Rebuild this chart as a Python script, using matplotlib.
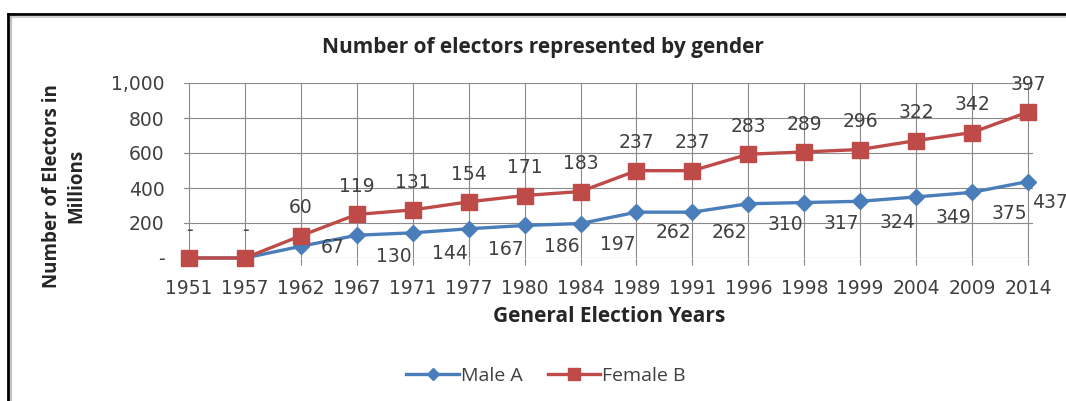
import matplotlib
matplotlib.use("Agg")
import matplotlib.pyplot as plt
from matplotlib.ticker import FuncFormatter
from matplotlib.lines import Line2D

years = ["1951", "1957", "1962", "1967", "1971", "1977", "1980", "1984",
         "1989", "1991", "1996", "1998", "1999", "2004", "2009", "2014"]
male = [0, 0, 67, 130, 144, 167, 186, 197, 262, 262, 310, 317, 324, 349, 375, 437]
female = [0, 0, 60, 119, 131, 154, 171, 183, 237, 237, 283, 289, 296, 322, 342, 397]

BLUE = "#4A7EBB"
RED = "#BE4B48"
TXT = "#404040"
HEAD = "#262626"
W, H = 1066, 401

fig = plt.figure(figsize=(W / 100, H / 100), dpi=100)
ax = fig.add_axes([184 / W, 1 - 258 / H, (1033 - 184) / W, (258 - 83) / H])

xs = list(range(len(years)))
# stacked line chart: female sits on top of male
stacked = [m + f for m, f in zip(male, female)]

ax.plot(xs, male, color=BLUE, lw=2.4, marker="D", ms=8, mfc=BLUE, mec=BLUE,
        label="Male A", clip_on=False, zorder=3)
ax.plot(xs, stacked, color=RED, lw=2.4, marker="s", ms=11, mfc=RED, mec=RED,
        label="Female B", clip_on=False, zorder=4)

lab_font = dict(family="DejaVu Sans", fontsize=13.5, color=TXT)
last = len(xs) - 1
for x, m, f, s in zip(xs, male, female, stacked):
    ax.annotate("-" if f == 0 else str(f), (x, s), xytext=(0, 20),
                textcoords="offset points", ha="center", va="center", **lab_font)
    if m:
        dx = 3 if x == last else 14
        dy = -1 if m < 100 else -15   # keep the lowest label off the axis
        ax.annotate(str(m), (x, m), xytext=(dx, dy), textcoords="offset points",
                    ha="left", va="center", **lab_font)

ax.set_xlim(-0.09, 15.09)
ax.set_ylim(0, 1000)
ax.set_xticks(xs)
ax.set_xticklabels(years)
ax.set_yticks(range(0, 1001, 200))
ax.yaxis.set_major_formatter(FuncFormatter(lambda v, p: "-" if v == 0 else f"{v:,.0f}"))
ax.grid(True, color="#8a8a8a", lw=0.8)
ax.set_axisbelow(True)
for sp in ax.spines.values():
    sp.set_visible(False)
ax.tick_params(axis="x", length=5, color="#8a8a8a", pad=10, labelsize=13.5, labelcolor=TXT)
ax.tick_params(axis="y", length=0, pad=14, labelsize=13.5, labelcolor=TXT)
for t in ax.get_xticklabels() + ax.get_yticklabels():
    t.set_family("DejaVu Sans")

fig.text(543 / W, 1 - 47 / H, "Number of electors represented by gender",
         ha="center", va="center", fontsize=15, fontweight="bold",
         family="Open Sans", color=HEAD)
fig.text(609 / W, 1 - 317 / H, "General Election Years", ha="center", va="center",
         fontsize=15, fontweight="bold", family="Open Sans", color=HEAD)
fig.text(64 / W, 1 - 186 / H, "Number of Electors in\nMillions", ha="center",
         va="center", rotation=90, fontsize=13.5, fontweight="bold", family="Open Sans",
         color=HEAD, linespacing=1.3)

handles = [
    Line2D([], [], color=BLUE, lw=2.4, marker="D", ms=6, mfc=BLUE, mec=BLUE),
    Line2D([], [], color=RED, lw=2.4, marker="s", ms=8, mfc=RED, mec=RED),
]
fig.legend(handles, ["Male A", "Female B"], loc="center", ncol=2,
           bbox_to_anchor=(546 / W, 1 - 376 / H), frameon=False,
           prop=dict(family="Open Sans", size=14), labelcolor=TXT,
           handlelength=2.7, handletextpad=0.1, columnspacing=1.3)

# chart frame, running off the right and bottom edges
fig.add_artist(Line2D([8 / W, 1], [1 - 14 / H, 1 - 14 / H], color="black", lw=2))
fig.add_artist(Line2D([8 / W, 8 / W], [0, 1 - 14 / H], color="black", lw=2))
fig.add_artist(Line2D([11 / W, 1], [1 - 17 / H, 1 - 17 / H], color="#d0d0d0", lw=1.5))
fig.add_artist(Line2D([11 / W, 11 / W], [0, 1 - 17 / H], color="#c0c0c0", lw=1.5))

fig.savefig("out.png", dpi=100)
